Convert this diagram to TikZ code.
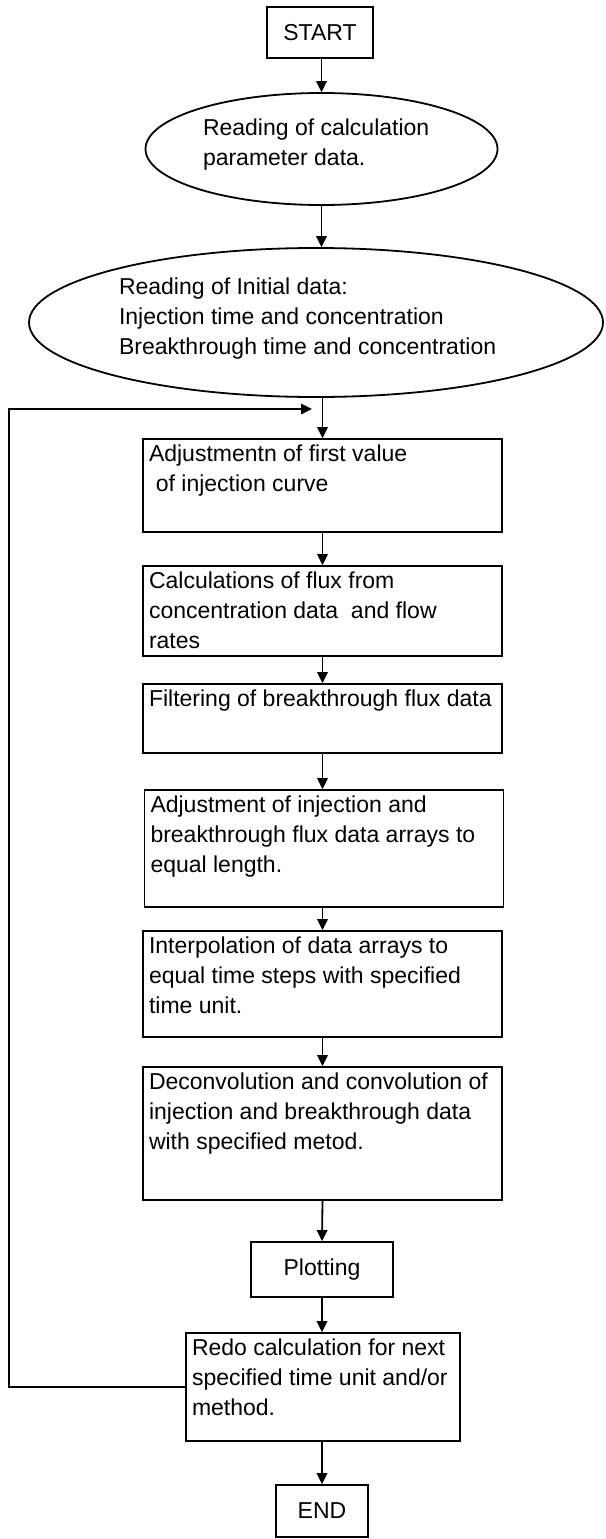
\documentclass[tikz,border=0pt]{standalone}
\usepackage{fontspec}
\setmainfont{Liberation Sans}
\usetikzlibrary{arrows.meta,shapes.geometric}

\begin{document}
\begin{tikzpicture}[x=1pt,y=-1pt,
  font=\fontsize{23pt}{30pt}\selectfont,
  stepbox/.style={draw,line width=1.8pt,inner xsep=6pt,inner ysep=6pt},
  endbox/.style={draw,line width=1.8pt,inner sep=0pt},
  readbox/.style={draw,ellipse,line width=1.8pt,inner sep=0pt},
  flow/.style={line width=1.8pt,-{Triangle[length=11pt,width=10.5pt]}}
]
\useasboundingbox (0,0) rectangle (605,1539);
\node[endbox,minimum width=106pt,minimum height=51pt] (start) at (320,32.5) {START};
\node[readbox,minimum width=352pt,minimum height=112pt] (ellA) at (321.5,149) {
  \begin{minipage}[c][61pt][t]{237pt}\raggedright
  Reading of calculation\\
  parameter data.
  \end{minipage}
};
\node[readbox,minimum width=574pt,minimum height=149pt] (ellB) at (316,322.5) {
  \begin{minipage}[c][89pt][t]{394pt}\raggedright
  Reading of Initial data:\\
  Injection time and concentration\\
  Breakthrough time and concentration
  \end{minipage}
};
\node[stepbox] (adjust) at (322.5,485.5) {
  \begin{minipage}[c][81pt][t]{347pt}\raggedright
  Adjustmentn of first value\\
  \hspace*{0.3em}of injection curve
  \end{minipage}
};
\node[stepbox] (flux) at (322.5,611) {
  \begin{minipage}[c][78pt][t]{347pt}\raggedright
  Calculations of flux from\\
  concentration data\ \ and flow\\
  rates
  \end{minipage}
};
\node[stepbox] (filter) at (322.5,718.5) {
  \begin{minipage}[c][57pt][t]{347pt}\raggedright
  Filtering of breakthrough flux data
  \end{minipage}
};
\node[stepbox] (length) at (324,848.5) {
  \begin{minipage}[c][105pt][t]{347pt}\raggedright
  Adjustment of injection and\\
  breakthrough flux data arrays to\\
  equal length.
  \end{minipage}
};
\node[stepbox] (interp) at (322.5,984) {
  \begin{minipage}[c][94pt][t]{347pt}\raggedright
  Interpolation of data arrays to\\
  equal time steps with specified\\
  time unit.
  \end{minipage}
};
\node[stepbox] (deconv) at (322.5,1133.5) {
  \begin{minipage}[c][121pt][t]{347pt}\raggedright
  Deconvolution and convolution of\\
  injection and breakthrough data\\
  with specified metod.
  \end{minipage}
};
\node[endbox,minimum width=142pt,minimum height=55pt] (plot) at (322,1269.5) {Plotting};
\node[stepbox] (redo) at (323,1387) {
  \begin{minipage}[c][96pt][t]{262pt}\raggedright
  Redo calculation for next\\
  specified time unit and/or\\
  method.
  \end{minipage}
};
\node[endbox,minimum width=92pt,minimum height=52pt] (end) at (322,1511) {END};
\coordinate (merge) at (312,409);

% main flow
\draw[flow] (ellA.north |- start.south) -- (ellA.north);
\draw[flow] (ellA.south) -- (ellA.south |- ellB.north);
\draw[flow] (adjust.north |- ellB.south) -- (adjust.north);
\draw[flow] (adjust.south) -- (flux.north);
\draw[flow] (flux.south) -- (filter.north);
\draw[flow] (filter.south) -- (filter.south |- length.north);
\draw[flow] (interp.north |- length.south) -- (interp.north);
\draw[flow] (interp.south) -- (deconv.north);
\draw[flow] (deconv.south) -- (plot.north);
\draw[flow] (plot.south) -- (plot.south |- redo.north);
\draw[flow] (end.north |- redo.south) -- (end.north);
% loop back
\draw[flow] (redo.west) -- ++(-176,0) |- (merge);
\end{tikzpicture}
\end{document}
